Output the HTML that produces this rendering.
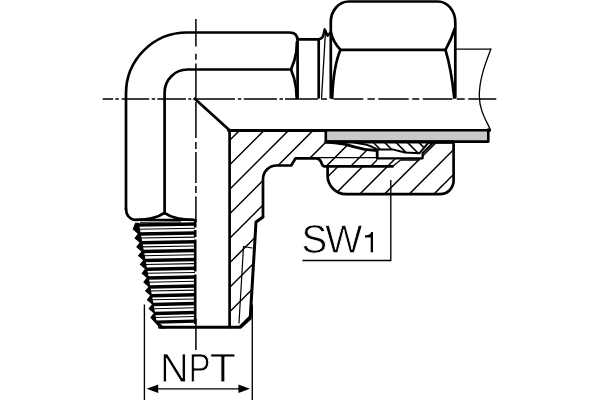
<!DOCTYPE html>
<html><head><meta charset="utf-8"><title>Elbow fitting</title>
<style>
html,body{margin:0;padding:0;background:#fff;}
body{width:600px;height:400px;overflow:hidden;font-family:"Liberation Sans",sans-serif;}
svg{display:block;}
</style></head><body>
<svg width="600" height="400" viewBox="0 0 600 400">
<rect width="600" height="400" fill="#fff"/>
<g stroke="#000" stroke-width="1.5" fill="none">
<path d="M102.7 98.9 H113.2 M115.3 98.9 H118.8 M121.6 98.9 H149.25 M151.7 98.9 H155.2 M157.3 98.9 H186 M188.3 98.9 H191.3 M193.4 98.9 H235 M237.8 98.9 H241.3 M243.75 98.9 H277 M279.5 98.9 H283 M285 98.9 H318 M321 98.9 H327 M333.5 98.9 H363.25 M367.5 98.9 H374.8 M378.3 98.9 H408.75 M412.25 98.9 H419.25 M422.75 98.9 H452.5 M456.7 98.9 H464.75 M468.25 98.9 H496.25"/>
<path d="M195.9 19 V46.5 M195.9 53.75 V59.75 M195.9 63.5 V99 M195.9 102 V138 M195.9 142 V149 M195.9 152 V183 M195.9 186 V193 M195.9 196.4 V222 M195.9 319 V350"/>
</g>
<g stroke="#000" fill="none" stroke-linecap="round" stroke-linejoin="round">
<path d="M126 209 V93.5 A61 61 0 0 1 187 32.5 H289.5 Q297.6 32.5 297.6 40.5 V97.5" stroke-width="2.7" />
<path d="M126 209 Q126.3 218.3 135 220" stroke-width="2.7" />
<path d="M136 219.9 C150 219.6 158 217.6 164.4 212.9 C171 217.6 179 219.6 193 219.9" stroke-width="2.7" />
<path d="M133.5 219.9 H195" stroke-width="2.4" />
<path d="M164.6 213.5 V92.5 A23 23 0 0 1 187.6 69.5 H291.2" stroke-width="2.7" />
<path d="M291 69.5 C293 65 295 60 296.3 52 L296.9 42" stroke-width="2.7" />
<path d="M291 69.5 C293 74 295 80 296 88 L296.7 98" stroke-width="2.7" />
<path d="M297.6 39.3 H318.7 V97.5" stroke-width="2.7" />
<path d="M318.7 39.3 Q322.3 39 323.2 35.5 L324.7 29.3 L327.6 35.8 L330 33" stroke-width="2.4" />
<path d="M325.4 33 L321.6 97.5" stroke-width="1.3" />
<path d="M330.8 97.5 V22 A18 20.5 0 0 1 348.8 1.5 H438 A17.3 21 0 0 1 455.3 22.5 V97.5" stroke-width="2.7" />
<path d="M330.8 32 Q333 42 340.5 49.8 H445.5" stroke-width="2.7" />
<path d="M340.5 49.8 C336 60 333 78 332.2 98" stroke-width="2.7" />
<path d="M445.5 49.8 Q451.5 39 455 28" stroke-width="2.7" />
<path d="M445.5 49.8 Q451.5 70 454.2 97.5" stroke-width="2.7" />
<path d="M456 49.2 H490.7" stroke-width="1.3" />
<path d="M490.9 49 C486 62 479.3 78 479.3 96 C479.3 110 486 120 490.5 130" stroke-width="1.3" />
<path d="M194.8 98.8 L229.8 130.5" stroke-width="2.7" />
<path d="M228.5 130.5 H489.6" stroke-width="2.9" />
<path d="M229.6 130.5 V327.2" stroke-width="2.7" />
</g>
<rect x="326.5" y="131.5" width="162" height="9.5" fill="#c9c9c9"/>
<g stroke="#000" fill="none" stroke-linecap="round" stroke-linejoin="round">
<path d="M325.8 130.5 V141.6 H488.3 V129.5" stroke-width="2.6" />
<path d="M326 141.9 H453.6" stroke-width="3.0" />
<path d="M263 216 V179 A13.5 13.5 0 0 1 276.5 165.5 H291.2 L295.6 158.3 H316.5 Q320 158.6 321.3 162.5 Q322.2 166 324.5 166.4 H392.5" stroke-width="2.7" />
<path d="M263 217 L256 222 L250.2 318.5 L240.5 327.2 H159.5" stroke-width="3.0" />
<path d="M252 248 L243.5 246.5 L239 323" stroke-width="1.2" />
<path d="M326 142 L335 142.9 L345.5 144.3 L354.3 146.9 L364.8 149.4 L377.2 150.6 V158.2" stroke-width="2.8" />
<path d="M354 142.4 L365.5 144.4 L372 146.8 L377.2 149.4 H392.5 L405 152.5 L419.3 153.3 L427.8 143.4" stroke-width="2.0" />
<path d="M377.2 158.3 H422.6 V153.2 L432.2 143.4" stroke-width="2.2" />
<path d="M317 157.7 H377" stroke-width="1.3" />
<path d="M392.5 166.4 L400.5 160 H419" stroke-width="1.3" />
<path d="M327.6 167 V175.5 A18.7 18.7 0 0 0 346.3 194.2 H440 A13.6 13.6 0 0 0 453.6 180.6 V142.5 H428" stroke-width="2.7" />
</g>
<defs>
<clipPath id="cb"><path d="M230 131 H325 V141.5 L335 142.9 L345.5 144.3 L354.3 146.9 L364.8 149.4 L377.2 150.6 V166.4 H324 Q322 165.8 321.5 163 Q320.5 158.6 317 158.3 H295.6 L291.2 165.5 H276.5 A13.5 13.5 0 0 0 263 179 V217 L256 222 L250.2 318.5 L240.5 326.7 H230 Z"/></clipPath>
<clipPath id="cn"><path d="M327.6 167 H379.5 V159.3 H418 L422.8 158.6 V155 L433.2 143.6 H453.6 V180.6 A13.6 13.6 0 0 1 440 194.2 H346.3 A18.7 18.7 0 0 1 327.6 175.5 Z"/></clipPath>
<clipPath id="cr"><path d="M372 142 H428 L419.3 153.3 L405 152.5 L392.5 149.4 H377.2 L372 146.8 Z"/></clipPath>
</defs>
<g stroke="#000" stroke-width="1.5" fill="none" clip-path="url(#cb)">
<path d="M270.0 100 L30.0 340"/>
<path d="M294.5 100 L54.5 340"/>
<path d="M319.0 100 L79.0 340"/>
<path d="M343.5 100 L103.5 340"/>
<path d="M368.0 100 L128.0 340"/>
<path d="M392.5 100 L152.5 340"/>
<path d="M417.0 100 L177.0 340"/>
<path d="M341.5 200 L201.5 340"/>
<path d="M437.0 100 L337.0 200"/>
<path d="M466.0 100 L226.0 340"/>
<path d="M490.5 100 L250.5 340"/>
<path d="M515.0 100 L275.0 340"/>
</g>
<g stroke="#000" stroke-width="1.5" fill="none" clip-path="url(#cn)">
<path d="M374.5 130 L294.5 210"/>
<path d="M399.2 130 L319.2 210"/>
<path d="M423.9 130 L343.9 210"/>
<path d="M448.6 130 L368.6 210"/>
<path d="M473.3 130 L393.3 210"/>
<path d="M498.0 130 L418.0 210"/>
<path d="M522.7 130 L442.7 210"/>
<path d="M547.4 130 L467.4 210"/>
</g>
<g stroke="#000" stroke-width="1.6" fill="none" clip-path="url(#cr)">
<path d="M343.0 135 L373.0 165"/>
<path d="M354.4 135 L384.4 165"/>
<path d="M365.8 135 L395.8 165"/>
<path d="M377.2 135 L407.2 165"/>
<path d="M388.6 135 L418.6 165"/>
<path d="M400.0 135 L430.0 165"/>
<path d="M411.4 135 L441.4 165"/>
<path d="M422.8 135 L452.8 165"/>
<path d="M434.2 135 L464.2 165"/>
</g>
<g stroke="#000" fill="none" stroke-linejoin="miter" stroke-linecap="butt">
<path d="M137.60 229.20 L195 228.30" stroke-width="1.05"/>
<path d="M137.20 225.09 L195 224.09" stroke-width="3.5"/>
<path d="M139.37 238.03 L195 237.13" stroke-width="1.05"/>
<path d="M138.97 233.92 L195 232.92" stroke-width="3.5"/>
<path d="M141.13 246.86 L195 245.96" stroke-width="1.05"/>
<path d="M140.73 242.75 L195 241.75" stroke-width="3.5"/>
<path d="M142.90 255.69 L195 254.79" stroke-width="1.05"/>
<path d="M142.50 251.58 L195 250.58" stroke-width="3.5"/>
<path d="M144.66 264.52 L195 263.62" stroke-width="1.05"/>
<path d="M144.26 260.40 L195 259.40" stroke-width="3.5"/>
<path d="M146.43 273.35 L195 272.45" stroke-width="1.05"/>
<path d="M146.03 269.23 L195 268.23" stroke-width="3.5"/>
<path d="M148.20 282.18 L195 281.28" stroke-width="1.05"/>
<path d="M147.80 278.06 L195 277.06" stroke-width="3.5"/>
<path d="M149.96 291.01 L195 290.11" stroke-width="1.05"/>
<path d="M149.56 286.89 L195 285.89" stroke-width="3.5"/>
<path d="M151.73 299.84 L195 298.94" stroke-width="1.05"/>
<path d="M151.33 295.72 L195 294.72" stroke-width="3.5"/>
<path d="M153.49 308.67 L195 307.77" stroke-width="1.05"/>
<path d="M153.09 304.55 L195 303.55" stroke-width="3.5"/>
<path d="M155.26 317.50 L195 316.60" stroke-width="1.05"/>
<path d="M154.86 313.38 L195 312.38" stroke-width="3.5"/>
<path d="M156.26 322.12 L195 321.22" stroke-width="3.3"/>
<path d="M135.20 222.69 L132.60 229.30 L137.78 233.72 L134.37 238.13 L139.55 242.55 L136.13 246.96 L141.32 251.38 L137.90 255.79 L143.08 260.21 L139.66 264.62 L144.85 269.04 L141.43 273.45 L146.61 277.87 L143.20 282.28 L148.38 286.70 L144.96 291.11 L150.15 295.53 L146.73 299.94 L151.91 304.36 L148.49 308.77 L153.68 313.19 L150.26 317.60 L160.20 328.50 L166.00 328.50 L156.46 320.60 L138.80 222.69 Z" fill="#000" stroke="none"/>
<path d="M140 222.3 L181 221.9" stroke-width="1"/>
<path d="M195.2 219 V227.5 M195.2 230 V237 M195.2 239.4 V271.5 M195.2 274.5 V324" stroke-width="2.6"/>
</g>
<g stroke="#000" stroke-width="1.35" fill="none">
<path d="M144.4 304.5 V400"/>
<path d="M252.3 304.5 V400"/>
<path d="M152 388.8 H244"/>
<path d="M390.8 180 V260.5 H302.5"/>
</g>
<path d="M146.6 388.8 L158.2 384.5 V393.1 Z M250 388.8 L238.4 384.5 V393.1 Z" fill="#000"/>
<g fill="#000" stroke="#fff" stroke-width="0.95" paint-order="fill stroke" stroke-linejoin="miter">
<path transform="matrix(0.01945 0 0 -0.01984 159.958 381.875)" d="M1082 0 328 1200 333 1103 338 936V0H168V1409H390L1152 201Q1140 397 1140 485V1409H1312V0Z" vector-effect="non-scaling-stroke"/>
<path transform="matrix(0.01606 0 0 -0.01984 188.578 381.875)" d="M1258 985Q1258 785 1127.5 667.0Q997 549 773 549H359V0H168V1409H761Q998 1409 1128.0 1298.0Q1258 1187 1258 985ZM1066 983Q1066 1256 738 1256H359V700H746Q1066 700 1066 983Z" vector-effect="non-scaling-stroke"/>
<path transform="matrix(0.02090 0 0 -0.01984 209.814 381.875)" d="M720 1253V0H530V1253H46V1409H1204V1253Z" vector-effect="non-scaling-stroke"/>
<path transform="matrix(0.01887 0 0 -0.01948 301.470 252.775)" d="M1272 389Q1272 194 1119.5 87.0Q967 -20 690 -20Q175 -20 93 338L278 375Q310 248 414.0 188.5Q518 129 697 129Q882 129 982.5 192.5Q1083 256 1083 379Q1083 448 1051.5 491.0Q1020 534 963.0 562.0Q906 590 827.0 609.0Q748 628 652 650Q485 687 398.5 724.0Q312 761 262.0 806.5Q212 852 185.5 913.0Q159 974 159 1053Q159 1234 297.5 1332.0Q436 1430 694 1430Q934 1430 1061.0 1356.5Q1188 1283 1239 1106L1051 1073Q1020 1185 933.0 1235.5Q846 1286 692 1286Q523 1286 434.0 1230.0Q345 1174 345 1063Q345 998 379.5 955.5Q414 913 479.0 883.5Q544 854 738 811Q803 796 867.5 780.5Q932 765 991.0 743.5Q1050 722 1101.5 693.0Q1153 664 1191.0 622.0Q1229 580 1250.5 523.0Q1272 466 1272 389Z" vector-effect="non-scaling-stroke"/>
<path transform="matrix(0.01927 0 0 -0.01948 325.102 252.775)" d="M1511 0H1283L1039 895Q1015 979 969 1196Q943 1080 925.0 1002.0Q907 924 652 0H424L9 1409H208L461 514Q506 346 544 168Q568 278 599.5 408.0Q631 538 877 1409H1060L1305 532Q1361 317 1393 168L1402 203Q1429 318 1446.0 390.5Q1463 463 1727 1409H1926Z" vector-effect="non-scaling-stroke"/>
</g>
<path d="M373 252.3 V232.1 H371.3 Q370.8 235.2 365 235.4 V237.5 H370.7 V252.3 Z" fill="#000"/>
</svg>
</body></html>
